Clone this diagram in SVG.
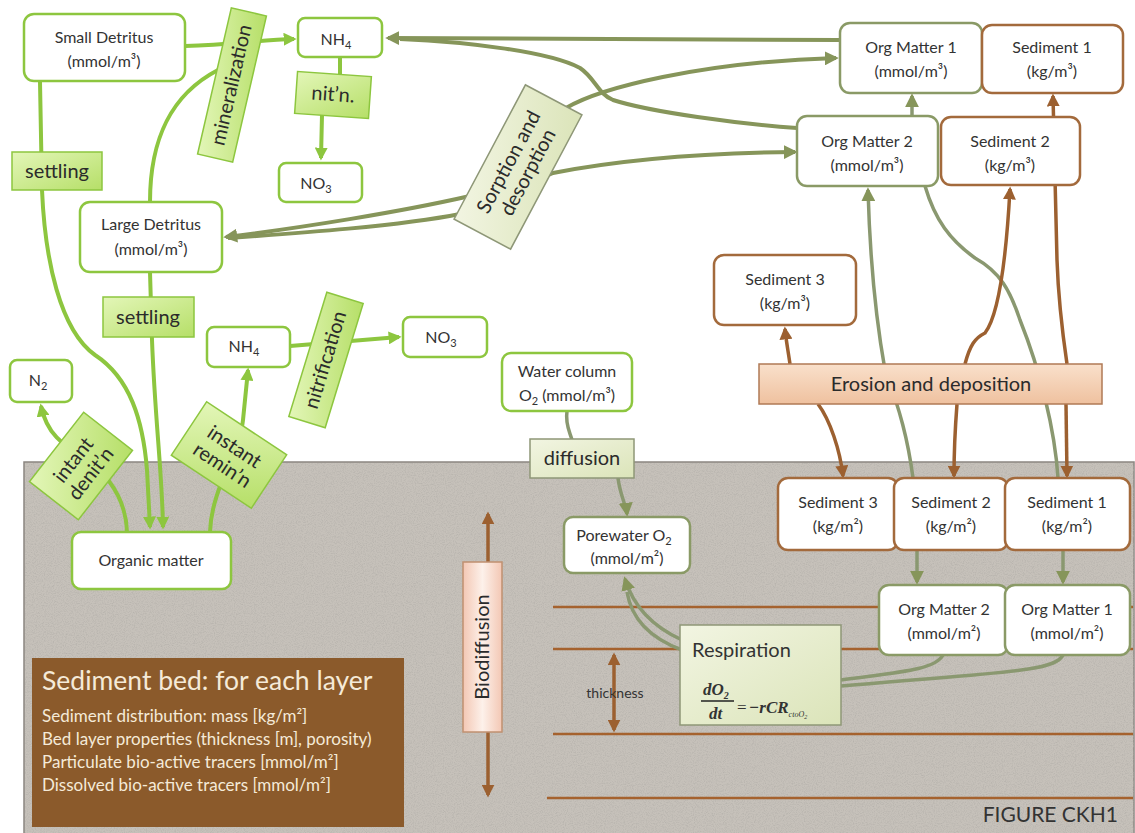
<svg xmlns="http://www.w3.org/2000/svg" width="1135" height="833" viewBox="0 0 1135 833">
<defs>
<style>
text{font-family:Lato,"Noto Sans",sans-serif;fill:#333}
.nt{font-size:16px;text-anchor:middle}
.lb{font-size:20px;text-anchor:middle;fill:#2b2b2b}
.gnode{fill:#fff;stroke:#8dc63f;stroke-width:2.5}
.onode{fill:#fff;stroke:#8a9a66;stroke-width:2.5}
.bnode{fill:#fff;stroke:#a36a3c;stroke-width:2.5}
.glab{fill:url(#gGreen);stroke:#8dc63f;stroke-width:1.5}
.olab{fill:url(#gOlive);stroke:#8e9777;stroke-width:1.5}
.gc{fill:none;stroke:#8dc63f;stroke-width:4}
.oc{fill:none;stroke:#86955a;stroke-width:4}
.oc2{fill:none;stroke:#8a9870;stroke-width:3.5}
.bc{fill:none;stroke:#9c6030;stroke-width:3.5}
.layer{stroke:#a5622e;stroke-width:2.5}
.info{fill:#f5ead8}
</style>
<linearGradient id="gGreen" x1="0" y1="0" x2="1" y2="1"><stop offset="0" stop-color="#e3f6b8"/><stop offset="1" stop-color="#b6df68"/></linearGradient>
<linearGradient id="gOlive" x1="0" y1="0" x2="1" y2="1"><stop offset="0" stop-color="#f2f5e2"/><stop offset="1" stop-color="#dbe4b9"/></linearGradient>
<linearGradient id="gPeach" x1="0" y1="0" x2="0" y2="1"><stop offset="0" stop-color="#f9e0cb"/><stop offset="1" stop-color="#efc19f"/></linearGradient>
<linearGradient id="gPink" x1="0" y1="0" x2="1" y2="0"><stop offset="0" stop-color="#f3c7b4"/><stop offset="0.5" stop-color="#fdf1ea"/><stop offset="1" stop-color="#f3c7b4"/></linearGradient>
<filter id="noise" x="0" y="0" width="100%" height="100%">
<feTurbulence type="fractalNoise" baseFrequency="0.9" numOctaves="3" seed="5" result="n"/>
<feColorMatrix in="n" type="matrix" values="0 0 0 0 0.45  0 0 0 0 0.43  0 0 0 0 0.4  1.6 0 0 0 -0.65"/>
</filter>
<marker id="aG" viewBox="0 0 10 10" refX="8" refY="5" markerWidth="13" markerHeight="13" markerUnits="userSpaceOnUse" orient="auto-start-reverse"><path d="M0,0 L10,5 L0,10 z" fill="#8dc63f"/></marker>
<marker id="aO" viewBox="0 0 10 10" refX="8" refY="5" markerWidth="14" markerHeight="14" markerUnits="userSpaceOnUse" orient="auto-start-reverse"><path d="M0,0 L10,5 L0,10 z" fill="#86955a"/></marker>
<marker id="aB" viewBox="0 0 10 10" refX="8" refY="5" markerWidth="13" markerHeight="13" markerUnits="userSpaceOnUse" orient="auto-start-reverse"><path d="M0,0 L10,5 L0,10 z" fill="#9c6030"/></marker>
</defs>

<rect width="1135" height="833" fill="#fff"/>

<g id="bedArea">
<rect x="24" y="462" width="1110" height="372" fill="#c6c1ba" stroke="#8a8580" stroke-width="1.5"/>
<rect x="25" y="463" width="1109" height="370" filter="url(#noise)"/>
<line class="layer" x1="553" y1="607" x2="1133" y2="607"/>
<line class="layer" x1="553" y1="649" x2="1133" y2="649"/>
<line class="layer" x1="553" y1="734" x2="1133" y2="734"/>
<line class="layer" x1="547" y1="798" x2="1133" y2="798"/>
</g>

<g id="connectors">
<path class="gc" d="M185,46 C230,45 260,40 294,39" marker-end="url(#aG)"/>
<path class="gc" d="M150,202 C150,140 170,95 218,70"/>
<path class="gc" d="M340,57 L340,80 L322,115 L321,158" marker-end="url(#aG)"/>
<path class="gc" d="M40,82 L42,190 C45,260 60,330 95,355 C130,378 143,420 147,470 L150,527" marker-end="url(#aG)"/>
<path class="gc" d="M150,272 L152,340 C155,420 162,470 163,527" marker-end="url(#aG)"/>
<path class="gc" d="M127,532 C126,505 115,485 95,465 C70,448 48,440 41,406" marker-end="url(#aG)"/>
<path class="gc" d="M210,532 C211,490 240,450 243,420 L248,370" marker-end="url(#aG)"/>
<path class="gc" d="M290,346 L399,337" marker-end="url(#aG)"/>
<path class="oc" d="M840,40 L388,38" marker-end="url(#aO)"/>
<path class="oc" d="M797,128 C740,124 650,112 613,100 C598,94 595,78 580,68 C550,52 470,42 400,39"/>
<path class="oc" d="M226,237 C300,228 400,212 470,196 L566,108 C600,88 700,62 836,58" marker-start="url(#aO)" marker-end="url(#aO)"/>
<path class="oc" d="M228,238 C300,233 400,226 460,214 L553,173 C620,160 700,153 795,152" marker-end="url(#aO)"/>
<path class="oc2" d="M567,411 C565,425 570,432 572,440"/>
<path class="oc2" d="M618,478 C620,495 626,505 627,514" marker-end="url(#aO)"/>
<path class="oc2" d="M682,640 C660,630 635,612 625,579" marker-end="url(#aO)"/>
<path class="oc2" d="M682,650 C655,640 632,622 627,592"/>
<path class="oc2" d="M943,655 C935,670 900,672 841,680"/>
<path class="oc2" d="M1063,655 C1055,672 1000,672 841,686"/>
<path class="oc2" d="M917,550 L917,582" marker-end="url(#aO)"/>
<path class="oc2" d="M1063,550 L1063,582" marker-end="url(#aO)"/>
<path class="oc2" d="M912,116 L912,96" marker-end="url(#aO)"/>
<path class="oc2" d="M913,478 C908,440 900,410 885,370 C876,320 870,260 868,190" marker-end="url(#aO)"/>
<path class="oc2" d="M925,186 C935,220 950,240 975,258 C1000,272 1010,290 1020,320 C1040,370 1055,430 1058,478"/>
<path class="bc" d="M790,364 C788,350 786,340 785,329" marker-end="url(#aB)"/>
<path class="bc" d="M818,404 C830,420 840,450 843,476" marker-end="url(#aB)"/>
<path class="bc" d="M965,364 C970,345 975,338 985,333 C995,320 1005,280 1010,189" marker-end="url(#aB)"/>
<path class="bc" d="M957,404 C955,430 954,455 954,476" marker-end="url(#aB)"/>
<path class="bc" d="M1067,364 C1062,330 1058,290 1057,260 L1053,96" marker-end="url(#aB)"/>
<path class="bc" d="M1066,404 L1067,476" marker-end="url(#aB)"/>
<path class="bc" d="M488,514 L488,795" marker-start="url(#aB)" marker-end="url(#aB)"/>
<path class="bc" d="M614,655 L614,730" marker-start="url(#aB)" marker-end="url(#aB)"/>
</g>

<g id="smallDetritus"><rect class="gnode" x="24" y="14" width="161" height="67" rx="10"/><text class="nt" x="104" y="43">Small Detritus</text><text class="nt" x="104" y="67">(mmol/m³)</text></g>
<g id="nh4top"><rect class="gnode" x="298" y="18" width="84" height="39" rx="7"/><text class="nt" x="336" y="45">NH<tspan font-size="11" dy="4">4</tspan></text></g>
<g id="no3top"><rect class="gnode" x="279" y="163" width="83" height="39" rx="7"/><text class="nt" x="316" y="189">NO<tspan font-size="11" dy="4">3</tspan></text></g>
<g id="largeDetritus"><rect class="gnode" x="80" y="202" width="142" height="70" rx="10"/><text class="nt" x="151" y="230">Large Detritus</text><text class="nt" x="151" y="255">(mmol/m³)</text></g>
<g id="n2"><rect class="gnode" x="10" y="360" width="62" height="42" rx="7"/><text class="nt" x="38" y="386">N<tspan font-size="11" dy="4">2</tspan></text></g>
<g id="nh4low"><rect class="gnode" x="207" y="327" width="83" height="40" rx="7"/><text class="nt" x="244" y="352">NH<tspan font-size="11" dy="4">4</tspan></text></g>
<g id="no3low"><rect class="gnode" x="403" y="317" width="84" height="40" rx="7"/><text class="nt" x="441" y="343">NO<tspan font-size="11" dy="4">3</tspan></text></g>
<g id="waterO2"><rect class="gnode" x="502" y="353" width="130" height="58" rx="9"/><text class="nt" x="567" y="377">Water column</text><text class="nt" x="567" y="401">O<tspan font-size="11" dy="4">2</tspan><tspan dy="-4"> (mmol/m³)</tspan></text></g>
<g id="organicMatter"><rect class="gnode" x="72" y="532" width="159" height="57" rx="9"/><text class="nt" x="151" y="566">Organic matter</text></g>
<g id="porewater"><rect class="onode" x="564" y="517" width="126" height="56" rx="9"/><text class="nt" x="624" y="541">Porewater O<tspan font-size="11" dy="4">2</tspan></text><text class="nt" x="627" y="564">(mmol/m²)</text></g>

<g id="om1w"><rect class="onode" x="840" y="23" width="142" height="70" rx="10"/><text class="nt" x="911" y="53">Org Matter 1</text><text class="nt" x="911" y="77">(mmol/m³)</text></g>
<g id="sed1w"><rect class="bnode" x="982" y="25" width="141" height="68" rx="10"/><text class="nt" x="1052" y="53">Sediment 1</text><text class="nt" x="1052" y="77">(kg/m³)</text></g>
<g id="om2w"><rect class="onode" x="797" y="116" width="141" height="70" rx="10"/><text class="nt" x="867" y="147">Org Matter 2</text><text class="nt" x="867" y="171">(mmol/m³)</text></g>
<g id="sed2w"><rect class="bnode" x="941" y="117" width="139" height="68" rx="10"/><text class="nt" x="1010" y="147">Sediment 2</text><text class="nt" x="1010" y="171">(kg/m³)</text></g>
<g id="sed3w"><rect class="bnode" x="714" y="255" width="142" height="70" rx="10"/><text class="nt" x="785" y="285">Sediment 3</text><text class="nt" x="785" y="309">(kg/m³)</text></g>

<g id="sed3b"><rect class="bnode" x="778" y="478" width="120" height="72" rx="10"/><text class="nt" x="838" y="508">Sediment 3</text><text class="nt" x="838" y="532">(kg/m²)</text></g>
<g id="sed2b"><rect class="bnode" x="894" y="478" width="114" height="72" rx="10"/><text class="nt" x="951" y="508">Sediment 2</text><text class="nt" x="951" y="532">(kg/m²)</text></g>
<g id="sed1b"><rect class="bnode" x="1005" y="478" width="125" height="72" rx="10"/><text class="nt" x="1067" y="508">Sediment 1</text><text class="nt" x="1067" y="532">(kg/m²)</text></g>
<g id="om2b"><rect class="onode" x="879" y="585" width="129" height="70" rx="10"/><text class="nt" x="944" y="615">Org Matter 2</text><text class="nt" x="944" y="639">(mmol/m²)</text></g>
<g id="om1b"><rect class="onode" x="1005" y="585" width="125" height="70" rx="10"/><text class="nt" x="1067" y="615">Org Matter 1</text><text class="nt" x="1067" y="639">(mmol/m²)</text></g>

<g id="settling1"><rect class="glab" x="12" y="152" width="90" height="38"/><text class="lb" x="57" y="178">settling</text></g>
<g id="settling2"><rect class="glab" x="103" y="297" width="91" height="40"/><text class="lb" x="148" y="324">settling</text></g>
<g id="mineralization" transform="translate(232,85) rotate(-77)"><rect class="glab" x="-75" y="-18" width="150" height="36"/><text class="lb" x="0" y="6">mineralization</text></g>
<g id="nitn" transform="translate(333,95) rotate(4)"><rect class="glab" x="-37" y="-21" width="74" height="42"/><text class="lb" x="0" y="6">nit’n.</text></g>
<g id="nitrification" transform="translate(326,360) rotate(-73)"><rect class="glab" x="-65" y="-19" width="130" height="38"/><text class="lb" x="0" y="6">nitrification</text></g>
<g id="denit" transform="translate(81,466) rotate(-52)"><rect class="glab" x="-44" y="-31" width="88" height="62"/><text class="lb" x="0" y="-3">intant</text><text class="lb" x="0" y="19">denit’n</text></g>
<g id="remin" transform="translate(229,455) rotate(33.5)"><rect class="glab" x="-48" y="-32" width="96" height="64"/><text class="lb" x="0" y="-3">instant</text><text class="lb" x="0" y="19">remin’n</text></g>
<g id="sorption" transform="translate(518,167) rotate(-62)"><rect class="olab" x="-76" y="-32" width="152" height="64"/><text class="lb" x="0" y="-4">Sorption and</text><text class="lb" x="0" y="18">desorption</text></g>
<g id="diffusion"><rect class="olab" x="530" y="439" width="104" height="39"/><text class="lb" x="582" y="465">diffusion</text></g>
<g id="erosion"><rect x="759" y="364" width="343" height="40" fill="url(#gPeach)" stroke="#b07a56" stroke-width="1.5"/><text class="lb" x="931" y="391">Erosion and deposition</text></g>
<g id="biodiffusion"><rect x="463" y="562" width="39" height="170" fill="url(#gPink)" stroke="#c09070" stroke-width="1.5"/><text class="lb" transform="translate(483,647) rotate(-90)" y="6" font-size="18">Biodiffusion</text></g>
<g id="thickness"><text x="615" y="698" font-size="14" text-anchor="middle" fill="#333">thickness</text></g>
<g id="respiration"><rect x="680" y="625" width="161" height="100" fill="url(#gOlive)" stroke="#8e9777" stroke-width="1.5"/>
<text x="692" y="657" font-size="20" fill="#2b2b2b">Respiration</text>
<g font-style="italic" font-weight="bold" fill="#222">
<text x="703" y="695" font-size="17" style="font-family:'Liberation Serif',serif">dO<tspan font-size="10" dy="4">2</tspan></text>
<line x1="701" y1="701" x2="734" y2="701" stroke="#222" stroke-width="1.3"/>
<text x="709" y="719" font-size="17" style="font-family:'Liberation Serif',serif">dt</text>
<text x="737" y="713" font-size="17" font-weight="normal" font-style="normal" style="font-family:'Liberation Serif',serif">=</text>
<text x="749" y="713" font-size="17" style="font-family:'Liberation Serif',serif">−rCR<tspan font-size="8" dy="4" font-weight="normal">ctoO<tspan font-size="6" dy="2">2</tspan></tspan></text>
</g>
</g>

<g id="bedInfo"><rect x="32" y="658" width="372" height="169" fill="#8b5a2b"/>
<text class="info" x="42" y="690" font-size="26.5">Sediment bed: for each layer</text>
<text class="info" x="42" y="722" font-size="17">Sediment distribution: mass [kg/m²]</text>
<text class="info" x="42" y="745" font-size="17">Bed layer properties (thickness [m], porosity)</text>
<text class="info" x="42" y="768" font-size="17">Particulate bio-active tracers [mmol/m²]</text>
<text class="info" x="42" y="791" font-size="17">Dissolved bio-active tracers [mmol/m²]</text>
</g>
<g id="caption"><text x="1118" y="822" font-size="21" text-anchor="end" fill="#333">FIGURE CKH1</text></g>
</svg>
